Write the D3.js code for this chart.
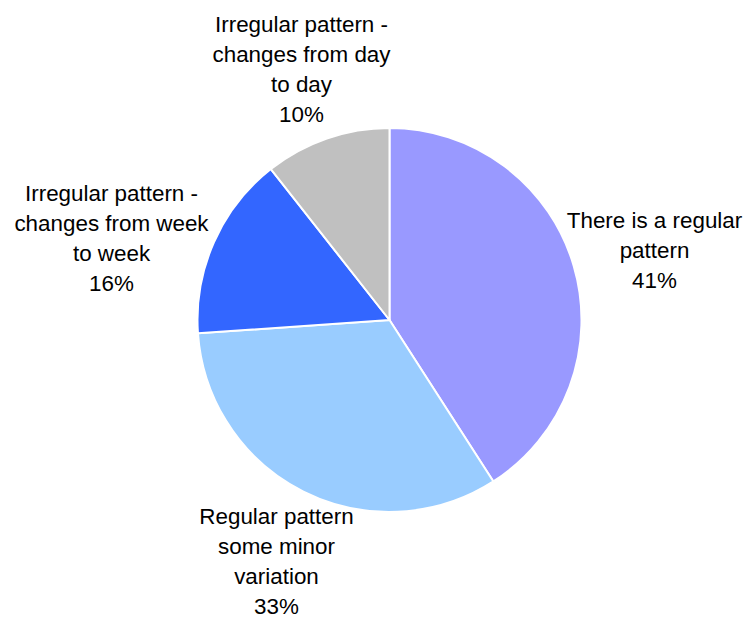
<!DOCTYPE html>
<html>
<head>
<meta charset="utf-8">
<script src="https://cdn.jsdelivr.net/npm/d3@7"></script>
<style>
  html, body { margin: 0; padding: 0; background: #fff; }
  svg { display: block; }
</style>
</head>
<body>
<svg id="chart" width="747" height="619"></svg>
<script>
// Data (clockwise from 12 o'clock)
const categories = [
  ["There is a regular", "pattern"],
  ["Regular pattern", "some minor", "variation"],
  ["Irregular pattern -", "changes from week", "to week"],
  ["Irregular pattern -", "changes from day", "to day"]
];
const sliceValues = [40.9, 33.0, 15.5, 10.6];
const percentLabels = ["41%", "33%", "16%", "10%"];
const colors = ["#9999FF", "#99CCFF", "#3366FF", "#C0C0C0"];

// Layout
const cx = 389.5, cy = 320, radius = 192;
const labelPos = [
  { x: 654.5, y: 228 },
  { x: 276.5, y: 523.5 },
  { x: 111.5, y: 201 },
  { x: 301.5, y: 32 }
];
const lineH = 30;

const svg = d3.select("#chart");
const g = svg.append("g").attr("transform", `translate(${cx},${cy})`);

const pie = d3.pie().sort(null).value(d => d);
const arc = d3.arc().innerRadius(0).outerRadius(radius);

g.selectAll("path")
  .data(pie(sliceValues))
  .join("path")
  .attr("d", arc)
  .attr("fill", (d, i) => colors[i])
  .attr("stroke", "#fff")
  .attr("stroke-width", 2)
  .attr("stroke-linejoin", "round");

const labels = svg.append("g")
  .attr("font-family", "'Liberation Sans', Arial, sans-serif")
  .attr("font-size", 22.4)
  .attr("fill", "#000")
  .attr("text-anchor", "middle");

categories.forEach((lines, i) => {
  const all = lines.concat([percentLabels[i]]);
  const t = labels.append("text")
    .attr("x", labelPos[i].x)
    .attr("y", labelPos[i].y);
  all.forEach((ln, j) => {
    t.append("tspan")
      .attr("x", labelPos[i].x)
      .attr("y", labelPos[i].y + j * lineH)
      .text(ln);
  });
});
</script>
</body>
</html>
